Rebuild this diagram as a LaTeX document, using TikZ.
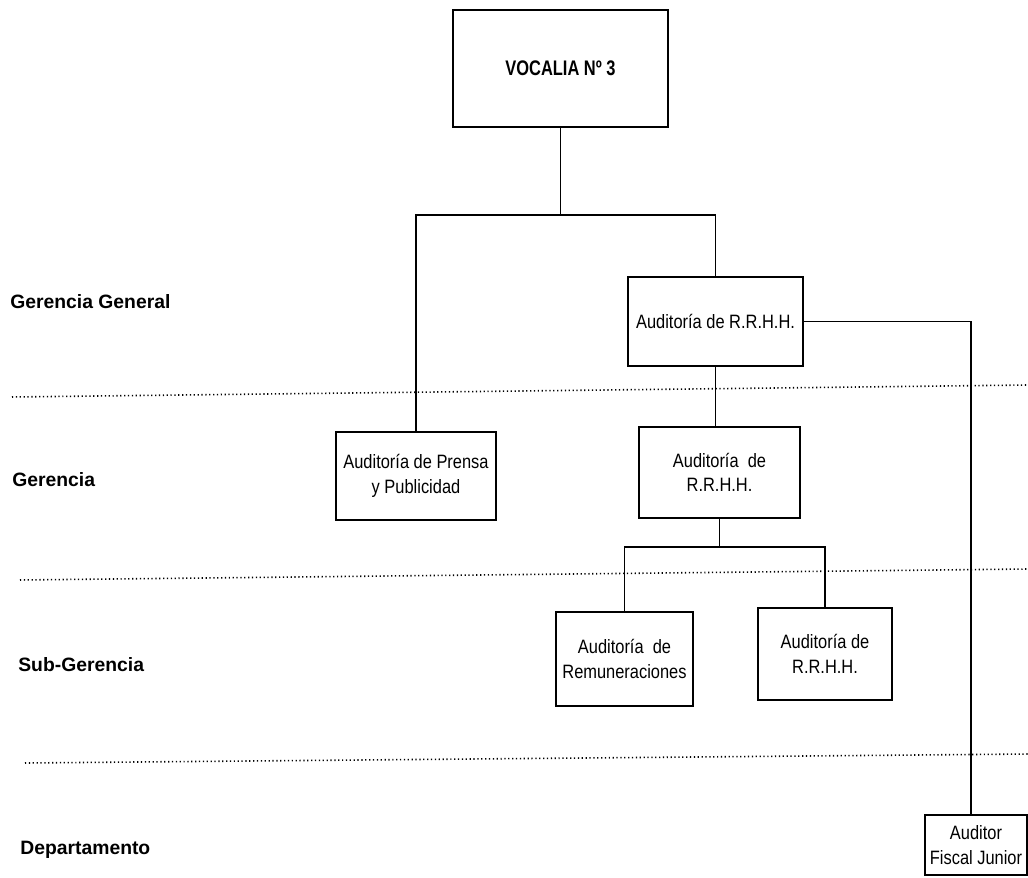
\documentclass[tikz,border=0pt]{standalone}
\usepackage{fontspec}
\setmainfont{Liberation Sans}
\newfontfamily\narrowfont{Liberation Sans}[FakeStretch=0.85]
\newfontfamily\headfont{Liberation Sans}[FakeStretch=0.78]
\usepackage{tikz}
\usetikzlibrary{calc,positioning}
\tikzset{
  link/.style={draw=black, line width=1.1pt},
  level line/.style={draw=black, line width=0.9pt,
    dash pattern=on 0.7pt off 1.5pt},
  unit box/.style={draw=black, line width=1.1pt, fill=white, align=center,
    inner sep=2pt, font=\narrowfont\fontsize{11}{14}\selectfont},
  head box/.style={unit box, font=\headfont\bfseries\fontsize{12}{14}\selectfont},
  level label/.style={anchor=west, inner sep=0pt,
    font=\bfseries\fontsize{11}{13}\selectfont}
}
\begin{document}
\begin{tikzpicture}
  \useasboundingbox (0,0) rectangle (20.56,-17.56);

  % niveles
  \node[level label] (gg) at (0.2,-6.04) {Gerencia General};
  \node[level label] (ge) at (0.24,-9.6) {Gerencia};
  \node[level label] (sg) at (0.36,-13.3) {Sub-Gerencia};
  \node[level label] (dp) at (0.4,-17.0) {Departamento};

  \coordinate (lineAw) at (0.24,-7.94);
  \coordinate (lineAe) at (20.56,-7.70);
  \coordinate (lineBw) at (0.40,-11.60);
  \coordinate (lineBe) at (20.56,-11.38);
  \coordinate (lineCw) at (0.50,-15.26);
  \coordinate (lineCe) at (20.56,-15.08);
  \draw[level line] (lineAw) -- (lineAe);
  \draw[level line] (lineBw) -- (lineBe);
  \draw[level line] (lineCw) -- (lineCe);

  % cajas
  \node[head box, minimum width=4.3cm, minimum height=2.34cm] (voc) at (11.21,-1.37) {VOCALIA Nº 3};
  \node[unit box, minimum width=3.5cm, minimum height=1.78cm] (rrhh) at (14.31,-6.43) {Auditoría de R.R.H.H.};
  \node[unit box, minimum width=3.2cm, minimum height=1.76cm] (prensa) at (8.32,-9.52) {Auditoría de Prensa\\y Publicidad};
  \node[unit box, minimum width=3.22cm, minimum height=1.82cm] (rrhhm) at (14.39,-9.45) {Auditoría\ \ de\\R.R.H.H.};
  \node[unit box, minimum width=2.74cm, minimum height=1.88cm] (remun) at (12.49,-13.18) {Auditoría\ \ de\\Remuneraciones};
  \node[unit box, minimum width=2.68cm, minimum height=1.84cm] (rrhhs) at (16.5,-13.08) {Auditoría de\\R.R.H.H.};
  \node[unit box, minimum width=2.04cm, minimum height=1.2cm] (fiscal) at (19.52,-16.9) {Auditor\\Fiscal Junior};

  % conexiones
  \coordinate (splitA) at (11.21,-4.3);
  \coordinate (splitB) at (14.39,-10.94);
  \draw[link] (voc) -- (splitA);
  \draw[link] (prensa.north) |- (splitA) -| (rrhh.north);
  \draw[link] (rrhh.south) -- (rrhh.south |- rrhhm.north);
  \draw[link] (rrhhm) -- (splitB);
  \draw[link] (remun.north) |- (splitB) -| (rrhhs.north);
  \draw[link] (rrhh.east) -| ([xshift=-3pt]fiscal.north);
\end{tikzpicture}
\end{document}
